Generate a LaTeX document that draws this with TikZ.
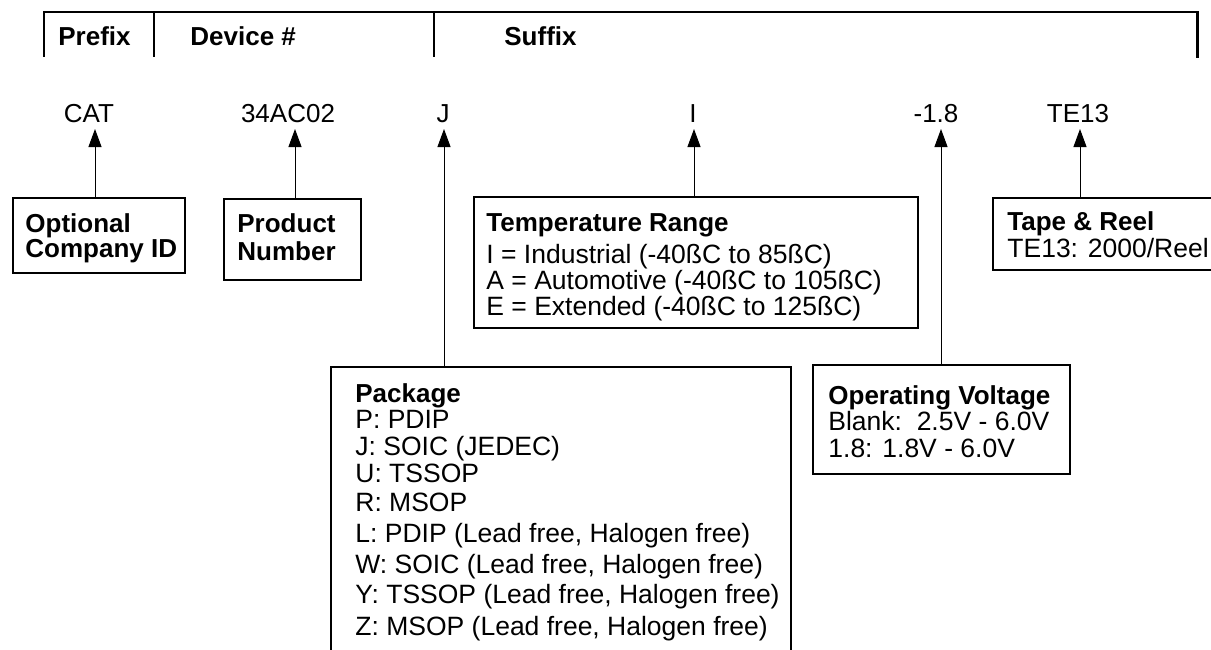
\documentclass[tikz,border=0pt]{standalone}
\usepackage{fontspec}
\setmainfont{Liberation Sans}
\usetikzlibrary{arrows.meta}
\tikzset{
	box/.style={draw,line width=1pt,inner sep=0pt,anchor=north west},
	txt/.style={anchor=base west,inner sep=0pt,font=\fontsize{13.25}{15}\selectfont},
	ttl/.style={anchor=base west,inner sep=0pt,font=\fontsize{13}{15}\selectfont\bfseries},
	code/.style={anchor=base,inner sep=0pt,font=\fontsize{13}{15}\selectfont},
	lead/.style={->,line width=0.5pt}
}
\begin{document}
\begin{tikzpicture}[>={Triangle[length=9pt,width=6.5pt]},x=0.5pt,y=-0.5pt]
		\useasboundingbox (0,0) rectangle (1211,649);
		\clip (0,0) rectangle (1211,649);
		\draw[line width=1pt] (44,11.7) -- (1197,11.7);
		\draw[line width=1.25pt] (44,11.2) -- (44,57);
		\draw[line width=1.5pt] (1197,11.2) -- (1197,58);
		\draw[line width=1pt] (154,11.7) -- (154,57) (434,11.7) -- (434,57);
		\node[ttl] (prefix) at (58,45) {Prefix};
		\node[ttl] (device) at (190,45) {Device \#};
		\node[ttl] (suffix) at (504,45) {Suffix};
		\node[code] (cat) at (89,122) {CAT};
		\node[code] (num) at (288,122) {34AC02};
		\node[code] (pkgcode) at (443,122) {J};
		\node[code] (tempcode) at (693,122) {I};
		\node[code] (voltcode) at (936,122) {-1.8};
		\node[code] (tapecode) at (1078,122) {TE13};
		\coordinate (cat tip) at (95,129);
		\coordinate (num tip) at (295,129);
		\coordinate (pkg tip) at (444,129);
		\coordinate (temp tip) at (694,129);
		\coordinate (volt tip) at (941,129);
		\coordinate (tape tip) at (1080,129);
		\node[box,minimum width=86pt,minimum height=37.5pt] (optid) at (12,197) {};
		\node[ttl] (optid1) at (25,232) {Optional};
		\node[ttl] (optid2) at (25,257) {Company ID};
		\node[box,minimum width=68.5pt,minimum height=40.5pt] (prod) at (223,198) {};
		\node[ttl] (prod1) at (237,232) {Product};
		\node[ttl] (prod2) at (237,260) {Number};
		\node[box,minimum width=222pt,minimum height=65.5pt] (temp) at (473,196) {};
		\node[ttl] (temp0) at (486,231) {Temperature Range};
		\node[txt] (temp1) at (486,263) {I = Industrial (-40ßC to 85ßC)};
		\node[txt] (temp2) at (486,289) {A = Automotive (-40ßC to 105ßC)};
		\node[txt] (temp3) at (486,315) {E = Extended (-40ßC to 125ßC)};
		\node[box,minimum width=230pt,minimum height=200pt] (pkg) at (330,366) {};
		\node[ttl] (pkg0) at (355,402) {Package};
		\foreach \y/\entry [count=\i] in {428/{P: PDIP},455/{J: SOIC (JEDEC)},482/{U: TSSOP},511/{R: MSOP},542/{L: PDIP (Lead free, Halogen free)},573/{W: SOIC (Lead free, Halogen free)},603/{Y: TSSOP (Lead free, Halogen free)},635/{Z: MSOP (Lead free, Halogen free)}}
			\node[txt] (pkg\i) at (355,\y) {\entry};
		\node[box,minimum width=128.5pt,minimum height=54.5pt] (volt) at (812,364) {};
		\node[ttl] (volt0) at (828,404) {Operating Voltage};
		\node[txt] (volt1) at (828,430) {Blank:\ \ 2.5V - 6.0V};
		\node[txt] (volt2) at (828,457) {1.8: 1.8V - 6.0V};
		\node[box,minimum width=150pt,minimum height=36pt] (tape) at (992,197) {};
		\node[ttl] (tape0) at (1007,230) {Tape \& Reel};
		\node[txt] (tape1) at (1007,257) {TE13: 2000/Reel};
		\draw[lead] (optid.north -| cat tip) -- (cat tip);
		\draw[lead] (prod.north -| num tip) -- (num tip);
		\draw[lead] (pkg.north -| pkg tip) -- (pkg tip);
		\draw[lead] (temp.north -| temp tip) -- (temp tip);
		\draw[lead] (volt.north -| volt tip) -- (volt tip);
		\draw[lead] (tape.north -| tape tip) -- (tape tip);
		\end{tikzpicture}
\end{document}
